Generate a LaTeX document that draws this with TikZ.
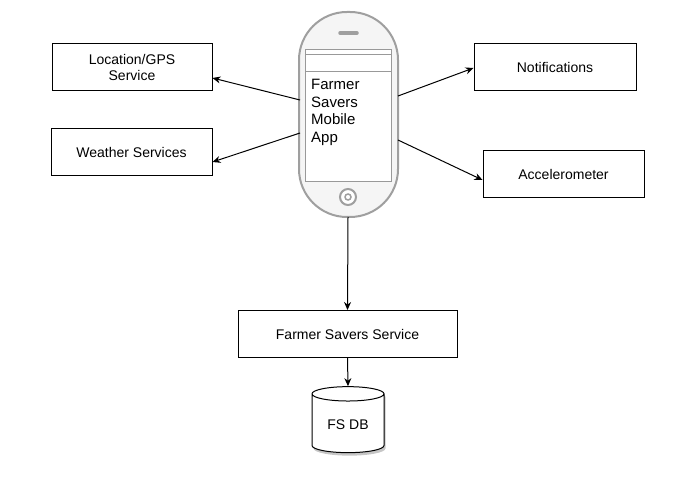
\documentclass[tikz,border=0pt]{standalone}
\usepackage{fontspec}
\setmainfont{Liberation Sans}
\usetikzlibrary{shapes.geometric,arrows.meta,shadows}
\begin{document}
\begin{tikzpicture}[x=1pt,y=-1pt,
  box/.style={draw,line width=1pt,fill=white,minimum height=47pt,align=center,font=\fontsize{14}{16}\selectfont},
  arr/.style={line width=1pt,-{Stealth[length=8pt,width=7pt]}}]
\useasboundingbox (0,0) rectangle (695,494);
% phone
\draw[line width=2pt,draw=gray!75,fill=gray!8,rounded corners=48pt] (299,12) rectangle (398,217);
\draw[draw=gray!80,fill=white,line width=1pt] (305,50) rectangle (391,182);
\draw[draw=gray!80,line width=0.8pt] (305,54) -- (391,54) (305,71) -- (391,71);
\draw[line width=3.5pt,gray!75,line cap=round] (340,33) -- (357,33);
\draw[line width=2pt,gray!75,fill=white] (348,197) circle (8);
\draw[line width=1.5pt,gray!75] (348,197) circle (3);
\node[anchor=north west,align=left,font=\fontsize{15}{17.5}\selectfont,inner sep=0] (app) at (311,79) {Farmer\\Savers\\Mobile\\App};
\coordinate (pL1) at (300,100);
\coordinate (pL2) at (300,133);
\coordinate (pR1) at (398,96);
\coordinate (pR2) at (398,140);
\coordinate (pB) at (348,217);
% boxes
\node[box,minimum width=160pt] (gps) at (132,67.5) {Location/GPS\\Service};
\node[box,minimum width=161pt] (wea) at (131.5,152) {Weather Services};
\node[box,minimum width=162pt] (not) at (555,67.5) {Notifications};
\node[box,minimum width=161pt] (acc) at (563.5,174) {Accelerometer};
\node[box,minimum width=219pt] (fss) at (347.5,334) {Farmer Savers Service};
\node[cylinder,shape border rotate=90,draw,line width=1pt,fill=white,aspect=0.3,minimum width=72pt,minimum height=66pt,
  drop shadow={shadow xshift=1.5pt,shadow yshift=-3pt,opacity=0.45},font=\fontsize{14}{16}\selectfont] (db) at (348,425) {FS DB};
% arrows
\draw[arr] (pL1) -- (gps.east |- 0,78);
\draw[arr] (pL2) -- (wea.east |- 0,162);
\draw[arr] (pR1) -- (not.west |- 0,68);
\draw[arr] (pR2) -- (acc.west |- 0,180);
\draw[arr] (pB) -- (fss.north);
\draw[arr] (fss.south) -- (db.top);
\end{tikzpicture}
\end{document}
